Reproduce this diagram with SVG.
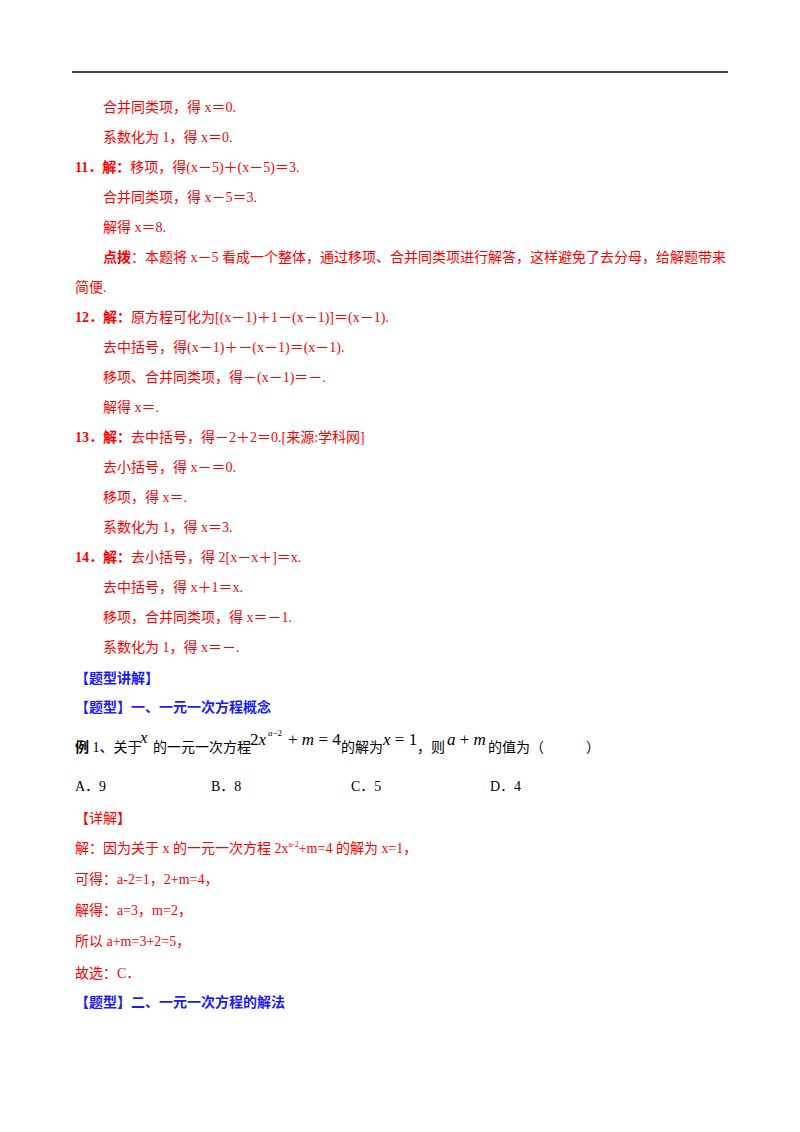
<svg xmlns="http://www.w3.org/2000/svg" width="800" height="1132" viewBox="0 0 800 1132">
<style>
text{font-family:"Liberation Serif","Noto Sans CJK SC",serif;font-size:14px}
.r{fill:#ff0000}
.b{fill:#1a1aff;font-weight:bold;font-family:"Liberation Sans","Noto Sans CJK SC",sans-serif}
.k{fill:#000}
.m{font-size:17px}
.s{font-size:9px}
.i{font-style:italic}
</style>
<rect width="800" height="1132" fill="#fff"/>
<line x1="72" y1="72" x2="728" y2="72" stroke="#000" stroke-width="1.5"/>
<text class="r" x="103" y="112">合并同类项，得 x＝0.</text>
<text class="r" x="103" y="142">系数化为 1，得 x＝0.</text>
<text class="r" x="75" y="172"><tspan font-weight="bold">11．解：</tspan>移项，得(x－5)＋(x－5)＝3.</text>
<text class="r" x="103" y="202">合并同类项，得 x－5＝3.</text>
<text class="r" x="103" y="232">解得 x＝8.</text>
<text class="r" x="103" y="262"><tspan font-weight="bold">点拨</tspan>：本题将 x－5 看成一个整体，通过移项、合并同类项进行解答，这样避免了去分母，给解题带来</text>
<text class="r" x="75" y="292">简便.</text>
<text class="r" x="75" y="322"><tspan font-weight="bold">12．解：</tspan>原方程可化为[(x－1)＋1－(x－1)]＝(x－1).</text>
<text class="r" x="103" y="352">去中括号，得(x－1)＋－(x－1)＝(x－1).</text>
<text class="r" x="103" y="382">移项、合并同类项，得－(x－1)＝－.</text>
<text class="r" x="103" y="412">解得 x＝.</text>
<text class="r" x="75" y="442"><tspan font-weight="bold">13．解：</tspan>去中括号，得－2＋2＝0.[来源:学科网]</text>
<text class="r" x="103" y="472">去小括号，得 x－＝0.</text>
<text class="r" x="103" y="502">移项，得 x＝.</text>
<text class="r" x="103" y="532">系数化为 1，得 x＝3.</text>
<text class="r" x="75" y="562"><tspan font-weight="bold">14．解：</tspan>去小括号，得 2[x－x＋]＝x.</text>
<text class="r" x="103" y="592">去中括号，得 x＋1＝x.</text>
<text class="r" x="103" y="622">移项，合并同类项，得 x＝－1.</text>
<text class="r" x="103" y="652">系数化为 1，得 x＝－.</text>
<text class="b" x="75" y="683">【题型讲解】</text>
<text class="b" x="75" y="712">【题型】一、一元一次方程概念</text>
<text class="k" x="75" y="752"><tspan font-weight="bold">例</tspan> 1、关于</text>
<text class="k i m" x="140" y="743">x</text>
<text class="k" x="153" y="752">的一元一次方程</text>
<text class="k m" x="250" y="745">2<tspan class="i">x</tspan></text>
<text class="k s" x="268" y="736"><tspan class="i">a</tspan>−2</text>
<text class="k m" x="288" y="745">+ <tspan class="i">m</tspan> = 4</text>
<text class="k" x="341" y="752">的解为</text>
<text class="k m" x="383" y="745"><tspan class="i">x</tspan> = 1</text>
<text class="k" x="417" y="752">，则</text>
<text class="k i m" x="447" y="745">a <tspan style="font-style:normal">+</tspan> m</text>
<text class="k" x="488" y="752">的值为（　　　）</text>
<text class="k" x="75" y="791">A．9</text>
<text class="k" x="211" y="791">B．8</text>
<text class="k" x="351" y="791">C．5</text>
<text class="k" x="490" y="791">D．4</text>
<text class="r" x="75" y="823">【详解】</text>
<text class="r" x="75" y="853">解：因为关于 x 的一元一次方程 2x<tspan style="font-size:8px" dy="-6">a-2</tspan><tspan dy="6">+m=4 的解为 x=1，</tspan></text>
<text class="r" x="75" y="884">可得：a-2=1，2+m=4，</text>
<text class="r" x="75" y="915">解得：a=3，m=2，</text>
<text class="r" x="75" y="946">所以 a+m=3+2=5，</text>
<text class="r" x="75" y="978">故选：C．</text>
<text class="b" x="75" y="1007">【题型】二、一元一次方程的解法</text>
</svg>
